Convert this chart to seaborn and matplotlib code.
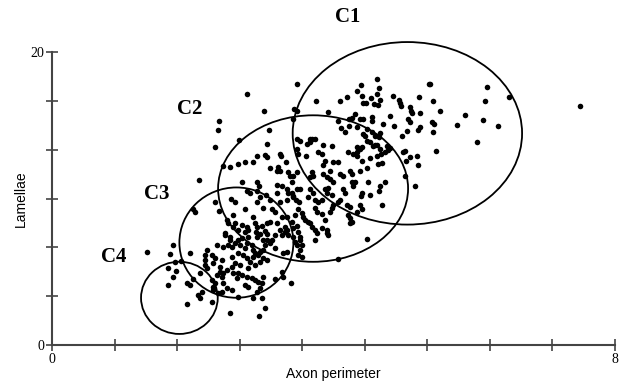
import numpy as np
import pandas as pd
import seaborn as sns
import matplotlib.pyplot as plt
from matplotlib.patches import Ellipse

sns.set_style("white")

# points: (axon perimeter, lamellae)
pts_far = [
    (5.37, 17.81), (6.18, 17.60), (5.41, 16.64), (6.15, 16.64), (6.49, 16.92), (5.51, 15.96),
    (5.87, 15.68), (5.40, 15.21), (5.43, 15.07), (5.75, 15.00), (6.12, 15.34), (6.34, 14.93),
    (5.41, 14.52), (6.04, 13.84), (5.45, 13.22), (7.51, 16.30), (5.16, 10.82),
]
pts_c1 = [
    (4.62, 18.15), (4.39, 17.74), (5.36, 17.81), (4.65, 17.53), (4.62, 17.12), (4.33, 17.33),
    (4.40, 16.99), (4.19, 16.92), (4.09, 16.64), (3.75, 16.64), (4.53, 16.85), (4.66, 16.71),
    (4.42, 16.51), (4.46, 16.51), (4.57, 16.44), (4.63, 16.37), (4.84, 16.99), (4.93, 16.71),
    (4.94, 16.51), (4.96, 16.30), (5.21, 16.92), (5.09, 16.23), (5.10, 15.96), (5.11, 15.82),
    (5.23, 15.82), (3.92, 15.89), (4.30, 15.75), (4.26, 15.48), (4.22, 15.41), (4.38, 15.41),
    (4.42, 15.41), (4.55, 15.55), (4.55, 15.27), (4.80, 15.62), (4.70, 15.07), (4.86, 14.93),
    (5.06, 15.41), (5.09, 15.21), (5.23, 14.86), (5.20, 14.66), (5.04, 14.59), (4.97, 14.25),
    (4.06, 15.27), (4.22, 14.93), (4.11, 14.79), (4.16, 14.52), (4.42, 14.38), (4.45, 14.25),
    (4.55, 14.52), (4.59, 14.25), (4.66, 14.45), (4.65, 14.18), (4.52, 13.84), (4.76, 13.56),
    (3.74, 14.04), (3.69, 14.04), (4.33, 13.49), (4.40, 13.49), (4.59, 13.63), (4.47, 14.73),
    (4.33, 14.86), (5.01, 13.22), (5.09, 12.81), (5.18, 12.88), (5.20, 12.26),
]
pts_c2_top = [
    (3.48, 17.81), (2.77, 17.12), (3.01, 15.96), (3.44, 16.10), (3.48, 15.96), (2.37, 15.27),
    (3.42, 15.41), (2.36, 14.66), (3.08, 14.66), (2.66, 13.97), (3.05, 13.70), (2.32, 13.49),
    (3.48, 14.04), (3.52, 13.90), (3.66, 14.04), (3.66, 13.84),
    (2.43, 12.19), (2.53, 12.12), (2.64, 12.33), (2.74, 12.47), (2.86, 12.47), (2.91, 12.88),
    (3.03, 12.95), (3.05, 12.81), (3.10, 12.05), (3.24, 13.01), (3.25, 12.88), (3.32, 12.47),
    (3.21, 12.12), (3.20, 11.85), (3.24, 11.85), (3.35, 11.78), (3.38, 11.51), (3.48, 11.78),
    (2.09, 11.23), (2.70, 11.16), (2.91, 11.10), (2.94, 10.82), (2.91, 10.48), (3.20, 10.89),
    (3.27, 10.82), (3.34, 10.62), (3.35, 10.41), (3.41, 10.41), (2.77, 10.48), (2.81, 10.41),
    (3.20, 10.41), (3.04, 10.27), (2.54, 10.00), (2.60, 9.73), (2.32, 9.79), (2.95, 10.07),
    (2.91, 9.79), (3.10, 9.93), (3.24, 9.79), (3.34, 9.93), (3.42, 10.14),
]
pts_c2 = [
    (3.48, 13.36), (3.49, 13.01), (3.62, 13.70), (3.85, 13.63), (3.98, 13.56), (3.78, 13.15),
    (3.84, 13.01), (3.61, 12.88), (3.88, 12.53), (3.85, 12.26), (3.99, 12.47), (4.06, 12.47),
    (4.20, 13.15), (4.28, 13.01), (4.33, 13.15), (4.38, 13.36), (4.47, 13.90), (4.56, 13.56),
    (4.62, 13.63), (4.66, 13.36), (4.77, 13.29), (4.80, 13.42), (4.33, 12.88), (4.40, 12.53),
    (4.52, 12.74), (4.62, 12.88), (4.67, 13.01), (4.73, 13.15), (4.63, 12.33), (4.69, 12.40),
    (4.47, 12.05), (4.99, 13.15), (5.03, 12.53), (3.42, 11.51), (3.69, 11.78), (3.71, 11.51),
    (3.66, 11.44), (3.85, 11.64), (3.91, 11.44), (3.95, 11.30), (3.99, 11.16), (3.95, 11.85),
    (4.09, 11.64), (4.13, 11.51), (4.23, 11.85), (4.26, 11.64), (4.38, 11.85), (4.26, 11.10),
    (4.30, 11.10), (4.28, 10.82), (4.49, 11.10), (4.73, 11.16), (4.66, 10.82), (4.65, 10.48),
    (5.01, 11.51), (3.41, 11.10), (3.48, 10.62), (3.52, 10.68), (3.42, 10.07), (3.47, 9.93),
    (3.51, 9.73), (3.66, 10.62), (3.71, 10.41), (3.64, 10.07), (3.74, 9.93), (3.78, 9.79),
    (3.84, 9.93), (3.88, 10.62), (3.92, 10.75), (3.91, 10.41), (3.98, 10.27), (4.13, 10.62),
    (4.16, 10.41), (4.40, 10.41), (4.39, 10.14), (4.52, 10.27), (4.09, 9.93), (4.06, 9.73),
    (3.99, 9.59), (4.19, 9.59), (4.23, 9.45), (4.38, 9.59), (4.40, 9.25), (4.69, 9.59),
    (3.49, 9.25), (3.55, 9.04), (3.57, 8.77), (3.59, 8.56), (3.64, 8.42), (3.74, 9.38),
    (3.76, 9.11), (3.84, 8.97), (3.88, 8.56), (3.95, 9.11), (3.98, 9.38), (4.20, 8.90),
    (4.23, 8.70), (4.26, 8.42), (4.33, 9.11), (3.42, 8.01), (3.49, 7.74), (3.52, 7.40),
    (3.66, 8.36), (3.69, 8.08), (3.74, 7.88), (3.76, 7.67), (3.84, 8.01), (3.91, 7.88),
    (3.92, 7.53), (4.47, 7.26), (4.23, 8.36),
]
pts_c3 = [
    (2.00, 9.25), (2.03, 9.11), (2.37, 9.18), (2.57, 8.90), (2.74, 9.25), (3.13, 9.25),
    (3.17, 9.11), (3.00, 9.38), (3.27, 8.77), (3.34, 8.77), (3.45, 8.90), (2.86, 8.77),
    (2.49, 8.56), (2.50, 8.36), (2.60, 8.36), (2.70, 8.22), (2.88, 8.36), (2.91, 8.08),
    (2.98, 8.15), (3.05, 8.36), (3.10, 8.42), (3.20, 8.36), (3.31, 8.08), (3.34, 7.88),
    (3.41, 8.42), (3.48, 8.15), (2.57, 8.08), (2.64, 7.88), (2.77, 8.08), (2.78, 7.88),
    (2.74, 7.74), (2.90, 7.74), (2.95, 7.60), (3.03, 7.81), (3.05, 7.60), (3.24, 7.88),
    (3.27, 7.53), (3.35, 7.53), (2.46, 7.67), (2.53, 7.40), (2.70, 7.33), (2.78, 7.40),
    (2.91, 7.40), (3.00, 7.19), (3.13, 7.19),
    (2.46, 7.53), (2.53, 7.19), (2.50, 6.85), (2.43, 6.71), (2.56, 6.71), (2.60, 6.99),
    (2.64, 7.19), (2.67, 6.85), (2.74, 6.64), (2.77, 6.99), (2.84, 6.85), (2.86, 6.51),
    (2.88, 6.30), (2.93, 6.16), (2.95, 6.37), (3.00, 6.51), (3.03, 6.85), (3.05, 7.19),
    (3.10, 6.99), (3.17, 7.53), (3.31, 7.74), (3.42, 7.40), (3.45, 7.05), (3.48, 6.85),
    (3.52, 7.19), (3.55, 6.85), (3.52, 6.51), (3.49, 6.16), (3.55, 6.03), (3.34, 6.37),
    (3.28, 6.30), (3.17, 6.64), (3.74, 7.19), (3.91, 7.67), (4.06, 5.89),
    (2.41, 5.82), (2.56, 6.03), (2.64, 6.30), (2.71, 6.16), (2.77, 5.96), (2.81, 5.68),
    (2.86, 6.03), (2.95, 5.68), (3.00, 5.96), (3.05, 5.82), (2.88, 5.48), (2.78, 5.27),
    (2.67, 5.48), (2.60, 5.62), (2.56, 5.34), (2.49, 5.14), (2.43, 4.93), (2.57, 4.93),
    (2.64, 4.93), (2.70, 4.79), (2.63, 4.59), (2.77, 4.66), (2.84, 4.59), (2.88, 4.45),
    (2.93, 4.32), (2.98, 4.25), (3.00, 4.66), (3.27, 5.00), (3.17, 4.52), (3.28, 4.66),
    (2.43, 4.25), (2.49, 3.90), (2.56, 3.77), (2.41, 3.63), (2.74, 4.11), (2.78, 3.97),
    (2.91, 3.63), (2.95, 3.90), (2.64, 3.29), (2.86, 3.22), (2.98, 3.22), (3.40, 4.25),
    (2.53, 2.19), (2.94, 1.99), (3.03, 2.53),
]
pts_c4 = [
    (1.35, 6.37), (1.72, 6.85), (1.68, 6.23), (1.96, 6.30), (1.75, 5.68), (1.83, 5.75),
    (1.65, 5.27), (1.76, 5.07), (1.72, 4.66), (1.65, 4.11), (1.92, 4.25), (1.96, 4.11),
    (2.00, 4.52), (2.20, 6.51), (2.17, 6.16), (2.27, 6.16), (2.32, 5.96), (2.29, 5.62),
    (2.17, 5.82), (2.17, 5.48), (2.20, 5.27), (2.34, 6.85), (2.39, 5.34), (2.39, 5.00),
    (2.34, 4.79), (2.41, 4.66), (2.10, 4.93), (2.27, 4.45), (2.32, 4.25), (2.29, 3.97),
    (2.13, 3.63), (2.07, 3.42), (2.10, 3.22), (2.29, 3.77), (2.36, 3.56), (2.27, 2.95),
    (1.92, 2.81),
]

# cluster ellipses: name, centre x, centre y, width, height
clusters = ["C1", "C2", "C3", "C4"]
centre_x = [5.05, 3.71, 2.62, 1.81]
centre_y = [14.45, 10.68, 6.99, 3.22]
ell_w = [3.26, 2.70, 1.62, 1.09]
ell_h = [12.46, 10.0, 7.53, 4.93]
label_x = [4.20, 1.96, 1.49, 0.87]
label_y = [22.4, 16.1, 10.3, 6.0]

all_pts = pts_far + pts_c1 + pts_c2_top + pts_c2 + pts_c3 + pts_c4
df = pd.DataFrame(all_pts, columns=["perimeter", "lamellae"])

fig = plt.figure(figsize=(6.23, 3.83), dpi=100)
ax = fig.add_axes([0.0835, 0.0992, 0.9036, 0.765])

sns.scatterplot(data=df, x="perimeter", y="lamellae", ax=ax, color="black",
                s=16, linewidth=0, clip_on=False)

for i in range(len(clusters)):
    e = Ellipse((centre_x[i], centre_y[i]), ell_w[i], ell_h[i], fill=False,
                edgecolor="black", linewidth=1.3, clip_on=False)
    ax.add_patch(e)
    ax.text(label_x[i], label_y[i], clusters[i], family="Liberation Serif",
            fontweight="bold", fontsize=15, ha="center", va="center", color="black")

ax.set_xlim(0, 8)
ax.set_ylim(0, 20)
sns.despine(ax=ax)
for s in ["left", "bottom"]:
    ax.spines[s].set_color("#444444")
    ax.spines[s].set_linewidth(1.5)

xt = np.linspace(0, 8, 10)
yt = np.linspace(0, 20, 7)
ax.set_xticks(xt)
ax.set_xticklabels(["0"] + [""] * 8 + ["8"], family="Liberation Serif", fontsize=10)
ax.set_yticks(yt)
ax.set_yticklabels(["0"] + [""] * 5 + ["20"], family="Liberation Serif", fontsize=10)
ax.tick_params(bottom=True, left=True, direction="inout", length=9, width=1.2,
               color="#444444", labelcolor="black", pad=1)

ax.set_xlabel("Axon perimeter", family="Liberation Sans", fontsize=10, labelpad=1,
              color="black")
ax.set_ylabel("Lamellae", family="Liberation Sans", fontsize=10, labelpad=2,
              color="black")

fig.savefig("out.png", dpi=100)
